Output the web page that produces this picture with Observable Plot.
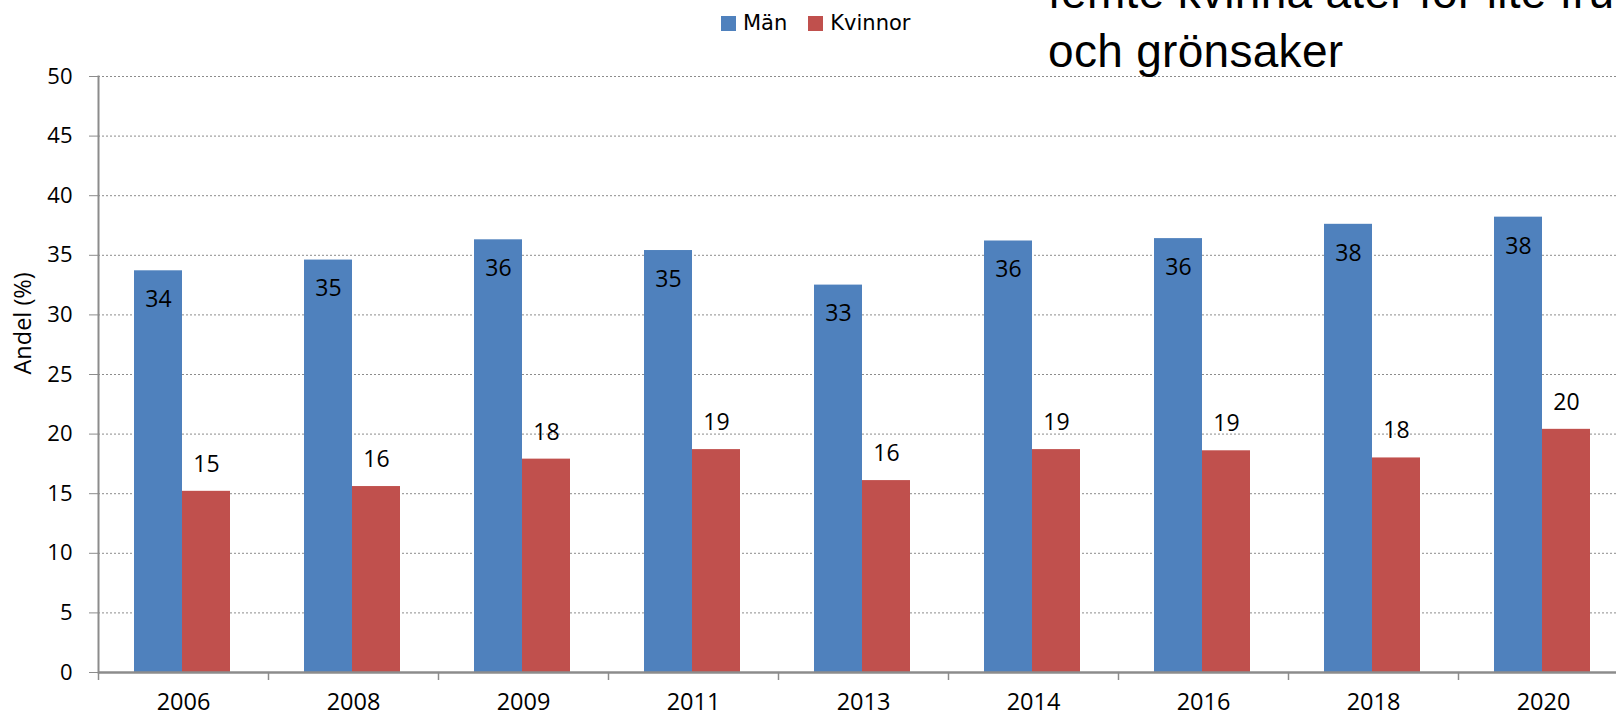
<!DOCTYPE html>
<html><head><meta charset="utf-8">
<script src="https://cdn.jsdelivr.net/npm/d3@7"></script>
<script src="https://cdn.jsdelivr.net/npm/@observablehq/plot@0.6"></script>
<style>
html,body{margin:0;padding:0;overflow:hidden;background:#fff;width:1616px;height:717px}
#wrap{position:relative;width:1616px;height:717px;overflow:hidden}
#chart svg{overflow:hidden;display:block}
.title{position:absolute;left:1048px;font-family:"Liberation Sans";font-size:46px;white-space:nowrap;color:#000;line-height:46px;letter-spacing:0.3px}
#legend{position:absolute;left:721px;top:13px;display:flex;font-family:"DejaVu Sans";font-size:21px;color:#000;line-height:21px}
#legend .item{display:flex;align-items:center;margin-right:21px}
#legend .sw{width:15px;height:15px;margin-right:7px;display:inline-block}
</style></head>
<body>
<div id="wrap">
  <div id="chart"></div>
  <div class="title" style="top:-31px">femte kvinna äter för lite frukt</div>
  <div class="title" style="top:28px">och grönsaker</div>
  <div id="legend"></div>
</div>
<script>
const years = ["2006","2008","2009","2011","2013","2014","2016","2018","2020"];
const men = [33.7, 34.6, 36.3, 35.4, 32.5, 36.2, 36.4, 37.6, 38.2];
const women = [15.2, 15.6, 17.9, 18.7, 16.1, 18.7, 18.6, 18.0, 20.4];
const series = ["Män", "Kvinnor"];
const colors = ["#4F81BD", "#C0504D"];
const yTicks = [0, 5, 10, 15, 20, 25, 30, 35, 40, 45, 50];
const yLabel = "Andel (%)";

const menData = years.map((y, i) => ({year: y, value: men[i]}));
const womenData = years.map((y, i) => ({year: y, value: women[i]}));

const chart = Plot.plot({
  width: 1616,
  height: 717,
  marginLeft: 98,
  marginTop: 76,
  marginBottom: 45,
  marginRight: 0,
  style: {fontFamily: "Open Sans", fontSize: "22px", color: "#000", background: "#fff"},
  x: {domain: years, range: [98, 1628], padding: 0, axis: null},
  y: {domain: [0, 50], axis: null},
  marks: [
    Plot.gridY(yTicks, {stroke: "#8c8c8c", strokeOpacity: 1, strokeDasharray: "2,2"}),
    Plot.barY(menData, {x: "year", y: "value", fill: colors[0], insetLeft: 36, insetRight: 86}),
    Plot.barY(womenData, {x: "year", y: "value", fill: colors[1], insetLeft: 84, insetRight: 38}),
    Plot.ruleY([0], {stroke: "#8c8c8c", strokeWidth: 2.5}),
    Plot.frame({anchor: "left", stroke: "#8c8c8c", strokeWidth: 2}),
    Plot.axisY(yTicks, {tickSize: 9, tickPadding: 17, fontSize: 22, stroke: "#8c8c8c", fill: "#000", label: null}),
    Plot.axisX({tickSize: 0, tickPadding: 21, fontSize: 23.5, fill: "#000", label: null}),
    Plot.axisX({tickSize: 8, dx: -85, tickFormat: () => "", stroke: "#8c8c8c", strokeWidth: 1.5, label: null}),
    Plot.text(menData, {x: "year", y: "value", text: d => String(Math.round(d.value)), dx: -25, dy: 29, fontSize: 23, fill: "#000"}),
    Plot.text(womenData, {x: "year", y: "value", text: d => String(Math.round(d.value)), dx: 23, dy: -27, fontSize: 23, fill: "#000"}),
    Plot.text([yLabel], {text: d => d, frameAnchor: "left", dx: -75, rotate: -90, fontSize: 23.5, fill: "#000"})
  ]
});
document.getElementById("chart").appendChild(chart);

const legend = document.getElementById("legend");
series.forEach((s, i) => {
  const item = document.createElement("span");
  item.className = "item";
  const sw = document.createElement("span");
  sw.className = "sw";
  sw.style.background = colors[i];
  item.appendChild(sw);
  item.appendChild(document.createTextNode(s));
  legend.appendChild(item);
});
</script>
</body></html>
